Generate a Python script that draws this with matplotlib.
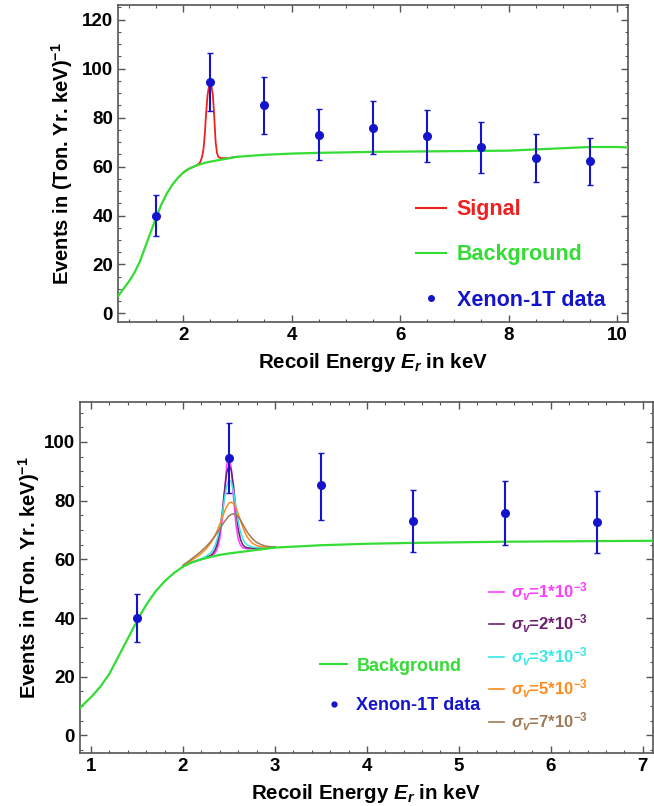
import matplotlib
matplotlib.use('Agg')
import matplotlib.pyplot as plt
from matplotlib.lines import Line2D
from matplotlib.ticker import MultipleLocator, AutoMinorLocator

plt.rcParams['font.family'] = ['Liberation Sans Narrow', 'Liberation Sans', 'DejaVu Sans']
plt.rcParams['font.weight'] = 'bold'
plt.rcParams['mathtext.fontset'] = 'custom'
plt.rcParams['mathtext.rm'] = 'Liberation Sans:bold'
plt.rcParams['mathtext.it'] = 'Liberation Sans:italic:bold'
plt.rcParams['mathtext.bf'] = 'Liberation Sans:bold'

# Xenon-1T data points
E_data = [1.5, 2.5, 3.5, 4.5, 5.5, 6.5, 7.5, 8.5, 9.5]
rate_data = [40, 94.5, 85.2, 73, 75.8, 72.6, 67.8, 63.4, 62.2]
err_lo = [8.3, 12.0, 11.7, 10.5, 10.8, 10.6, 10.3, 9.9, 9.8]
err_hi = [8.3, 12.0, 11.2, 10.5, 10.8, 10.6, 10.3, 9.7, 9.3]

# background curve
E_bg = [0.8, 0.9, 1.0, 1.1, 1.2, 1.3, 1.4, 1.5, 1.6, 1.7, 1.8, 1.9, 2.0, 2.1,
        2.2, 2.3, 2.4, 2.5, 2.6, 2.7, 2.8, 3.0, 3.5, 4.0, 4.5, 5.0, 5.5, 6.0,
        6.5, 7.0, 7.5, 8.0, 8.5, 9.0, 9.5, 10.0, 10.2]
rate_bg = [7.0, 10.0, 13.0, 16.5, 21.0, 27.0, 33.0, 39.0, 44.5, 49.0, 52.5,
           55.3, 57.5, 59.0, 60.0, 60.8, 61.5, 62.0, 62.4, 62.8, 63.2, 64.0,
           64.8, 65.3, 65.6, 65.8, 66.0, 66.1, 66.2, 66.3, 66.4, 66.5, 67.0,
           67.5, 68.0, 68.0, 67.8]

# signal curves near the peak (background + line)
E_sig = [2.0, 2.05, 2.1, 2.15, 2.2, 2.25, 2.3, 2.325, 2.35, 2.375, 2.4, 2.425,
         2.45, 2.475, 2.5, 2.525, 2.55, 2.575, 2.6, 2.625, 2.65, 2.675, 2.7,
         2.75, 2.8, 2.85, 2.9, 2.95, 3.0]
signal = [57.5, 58.3, 59.0, 59.5, 60.0, 60.5, 61.3, 62.3, 64.0, 67.0, 73.0,
          82.0, 89.0, 92.5, 93.0, 92.5, 89.0, 80.0, 70.0, 65.5, 64.0, 63.6,
          63.5, 63.4, 63.4, 63.5, 63.7, 63.9, 64.0]
sig_1 = [57.5, 58.3, 59.0, 59.5, 60.0, 60.5, 61.0, 61.4, 62.2, 63.8, 67.0,
         73.0, 82.0, 92.0, 96.0, 91.0, 81.0, 72.0, 67.0, 64.8, 64.0, 63.7,
         63.6, 63.6, 63.7, 63.8, 63.9, 64.0, 64.1]
sig_2 = [57.5, 58.3, 59.0, 59.5, 60.0, 60.6, 61.3, 62.0, 63.2, 65.5, 69.5,
         75.5, 83.0, 89.5, 92.0, 90.5, 85.0, 77.0, 70.5, 66.8, 65.0, 64.2,
         63.9, 63.8, 63.8, 63.9, 63.9, 64.0, 64.1]
sig_3 = [57.5, 58.3, 59.0, 59.6, 60.2, 61.0, 62.2, 63.2, 64.8, 67.2, 70.5,
         75.0, 80.5, 85.0, 87.0, 86.5, 83.0, 78.0, 73.0, 69.3, 67.0, 65.6,
         64.8, 64.2, 64.0, 64.0, 64.0, 64.1, 64.1]
sig_5 = [57.8, 58.8, 59.8, 60.8, 62.0, 63.5, 65.5, 66.8, 68.3, 70.0, 72.0,
         74.0, 76.2, 78.0, 79.2, 79.5, 79.0, 77.6, 75.6, 73.2, 71.0, 69.0,
         67.5, 65.6, 64.7, 64.3, 64.1, 64.1, 64.2]
sig_7 = [58.0, 59.1, 60.3, 61.5, 62.8, 64.3, 66.0, 67.0, 68.0, 69.2, 70.4,
         71.6, 72.8, 73.8, 74.8, 75.3, 75.5, 75.2, 74.5, 73.4, 72.0, 70.6,
         69.2, 67.2, 65.8, 65.0, 64.5, 64.3, 64.3]

sig_curves = [sig_1, sig_2, sig_3, sig_5, sig_7]
sig_labels = ['1', '2', '3', '5', '7']
sig_colors = ['#ff3cff', '#6e1f6e', '#38e6e6', '#ff8a1e', '#a07a55']

green = '#33dd33'
red = '#ee2020'
blue = '#1414cc'
frame = '#555555'

fig = plt.figure(figsize=(6.54, 8.06), dpi=100)
ax1 = fig.add_axes([0.1804, 0.6005, 0.7798, 0.3933])
ax2 = fig.add_axes([0.1223, 0.0658, 0.876, 0.4350])


def style_axes(ax):
    for s in ax.spines.values():
        s.set_color(frame)
        s.set_linewidth(1.2)
    ax.tick_params(which='both', direction='in', top=True, right=True,
                   color=frame, labelsize=13.5)
    ax.tick_params(which='major', length=5, width=1)
    ax.tick_params(which='minor', length=2.5, width=0.8)
    for lab in ax.get_xticklabels() + ax.get_yticklabels():
        lab.set_fontweight('bold')


def draw_data(ax, n):
    ax.errorbar(E_data[:n], rate_data[:n], yerr=[err_lo[:n], err_hi[:n]],
                fmt='o', color=blue, ms=5.5, elinewidth=1.5, capsize=2.5,
                capthick=1, zorder=5)


# ---- top panel ----
ax1.plot(E_sig, signal, color=red, lw=1.3, zorder=3)
ax1.plot(E_bg, rate_bg, color=green, lw=1.6, zorder=4)
draw_data(ax1, 9)
ax1.set_xlim(0.8, 10.2)
ax1.set_ylim(-3.5, 126)
ax1.xaxis.set_major_locator(MultipleLocator(2))
ax1.xaxis.set_minor_locator(AutoMinorLocator(4))
ax1.yaxis.set_major_locator(MultipleLocator(20))
ax1.yaxis.set_minor_locator(AutoMinorLocator(4))
style_axes(ax1)
ax1.set_xlabel(r'Recoil Energy $E_r$ in keV', fontsize=14.8, fontweight='bold', labelpad=5)
ax1.set_ylabel(r'Events in (Ton. Yr. keV)$^{-1}$', fontsize=14.5, fontweight='bold')
ax1.yaxis.set_label_coords(-0.085, 0.5)

h_top = [Line2D([], [], color=red, lw=1.5),
         Line2D([], [], color=green, lw=1.5),
         Line2D([], [], color=blue, marker='o', ls='none', ms=4)]
leg1 = ax1.legend(h_top, ['Signal', 'Background', 'Xenon-1T data'],
                  loc='lower left', bbox_to_anchor=(0.546, -0.025), frameon=False,
                  fontsize=15.5, handlelength=1.4, handletextpad=0.5,
                  labelspacing=1.12, labelcolor=[red, green, blue])
for t in leg1.get_texts():
    t.set_fontweight('bold')

# ---- bottom panel ----
for y, c in zip(sig_curves, sig_colors):
    ax2.plot(E_sig, y, color=c, lw=1.1, zorder=3)
ax2.plot(E_bg, rate_bg, color=green, lw=1.6, zorder=4)
draw_data(ax2, 6)
ax2.set_xlim(0.88, 7.11)
ax2.set_ylim(-6, 113.5)
ax2.xaxis.set_major_locator(MultipleLocator(1))
ax2.xaxis.set_minor_locator(AutoMinorLocator(5))
ax2.yaxis.set_major_locator(MultipleLocator(20))
ax2.yaxis.set_minor_locator(AutoMinorLocator(4))
style_axes(ax2)
ax2.set_xlabel(r'Recoil Energy $E_r$ in keV', fontsize=14.8, fontweight='bold', labelpad=5)
ax2.set_ylabel(r'Events in (Ton. Yr. keV)$^{-1}$', fontsize=14.5, fontweight='bold')
ax2.yaxis.set_label_coords(-0.066, 0.5)

h_bot = [Line2D([], [], color=green, lw=1.5),
         Line2D([], [], color=blue, marker='o', ls='none', ms=3.5)]
leg2 = ax2.legend(h_bot, ['Background', 'Xenon-1T data'],
                  loc='lower left', bbox_to_anchor=(0.391, 0.064), frameon=False,
                  fontsize=13, handlelength=1.5, handletextpad=0.5,
                  labelspacing=1.25, labelcolor=[green, blue])
for t in leg2.get_texts():
    t.set_fontweight('bold')
ax2.add_artist(leg2)

h_sig = [Line2D([], [], color=c, lw=1.2) for c in sig_colors]
lab_sig = [r'$\sigma_v$=' + n + r'*10$^{-3}$' for n in sig_labels]
leg3 = ax2.legend(h_sig, lab_sig, loc='lower left', bbox_to_anchor=(0.688, 0.014),
                  frameon=False, fontsize=12, handlelength=0.9,
                  handletextpad=0.4, labelspacing=0.6, labelcolor=sig_colors)
for t in leg3.get_texts():
    t.set_fontweight('bold')

fig.savefig('out.png', dpi=100)
